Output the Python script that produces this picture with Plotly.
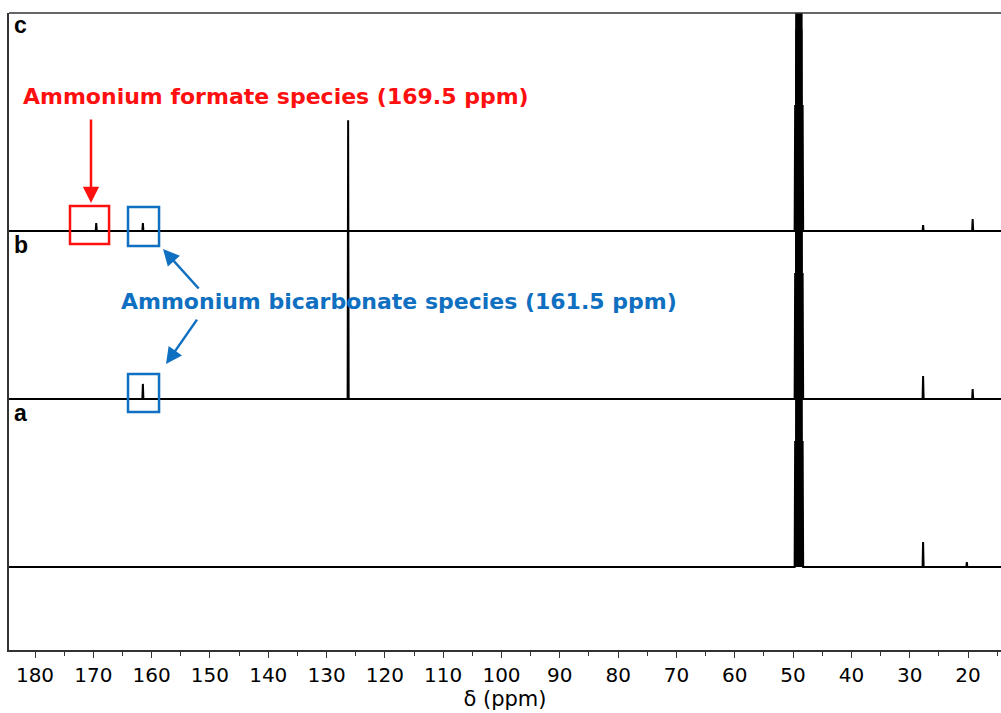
import plotly.graph_objects as go

# 13C NMR stick spectra, stacked a (bottom) -> c (top)
spectrum_names = ["a", "b", "c"]
spectrum_offsets = [0.0, 1.0, 2.0]

# Solvent multiplet (CD3OD septet around 49 ppm), shared by all spectra
solvent_ppm = [49.64, 49.43, 49.21, 49.00, 48.79, 48.57, 48.36]
solvent_int = [0.75, 2.2, 4.4, 5.2, 4.4, 2.2, 0.75]

a_ppm = [27.7, 20.2]
a_int = [0.149, 0.03]

b_ppm = [161.5, 126.3, 27.7, 19.2]
b_int = [0.09, 1.66, 0.137, 0.06]

c_ppm = [169.5, 161.5, 27.7, 19.2]
c_int = [0.048, 0.048, 0.036, 0.071]

x_ticks = [180, 170, 160, 150, 140, 130, 120, 110, 100, 90, 80, 70, 60, 50, 40, 30, 20]

X_LEFT, X_RIGHT = 184.46, 14.34
Y_BOTTOM, Y_TOP = -0.494, 3.298
HALF_WIDTH = 0.09  # half width of each stick, ppm


def stick_trace(ppm, inten, offset):
    peaks = sorted(zip(ppm, inten), key=lambda p: -p[0])
    xs, ys = [X_LEFT + 1], [offset]
    for p, h in peaks:
        xs += [p + HALF_WIDTH, p, p - HALF_WIDTH]
        ys += [offset, offset + h, offset]
    xs.append(X_RIGHT - 1)
    ys.append(offset)
    return go.Scatter(x=xs, y=ys, mode="lines",
                      line=dict(color="black", width=2),
                      hoverinfo="skip", showlegend=False)


fig = go.Figure()
for name, off, pp, ii in zip(spectrum_names, spectrum_offsets,
                              [a_ppm, b_ppm, c_ppm], [a_int, b_int, c_int]):
    fig.add_trace(stick_trace(pp + solvent_ppm, ii + solvent_int, off))

RED = "#ff1010"
BLUE = "#0f6fc0"
BOLD = "DejaVu Sans"

shapes = [
    # top frame line
    dict(type="line", xref="paper", yref="paper", x0=0, x1=1, y0=1, y1=1,
         line=dict(color="#333333", width=1.5)),
    # highlight boxes
    dict(type="rect", xref="x", yref="y", x0=174.0, x1=167.3, y0=1.923, y1=2.149,
         line=dict(color=RED, width=2.5)),
    dict(type="rect", xref="x", yref="y", x0=164.05, x1=158.73, y0=1.911, y1=2.143,
         line=dict(color=BLUE, width=2.5)),
    dict(type="rect", xref="x", yref="y", x0=164.05, x1=158.73, y0=0.923, y1=1.149,
         line=dict(color=BLUE, width=2.5)),
]

panel_font = dict(family="Liberation Sans", size=23, color="black")
annotations = [
    dict(text="<b>c</b>", xref="paper", yref="y", x=0.003, y=3.226,
         xanchor="left", yanchor="middle", showarrow=False, font=panel_font),
    dict(text="<b>b</b>", xref="paper", yref="y", x=0.003, y=1.917,
         xanchor="left", yanchor="middle", showarrow=False, font=panel_font),
    dict(text="<b>a</b>", xref="paper", yref="y", x=0.003, y=0.917,
         xanchor="left", yanchor="middle", showarrow=False, font=panel_font),
    dict(text="<b>Ammonium formate species (169.5 ppm)</b>", xref="x", yref="y",
         x=138.67, y=2.798, xanchor="center", yanchor="middle", showarrow=False,
         font=dict(family=BOLD, size=22, color=RED)),
    dict(text="<b>Ammonium bicarbonate species (161.5 ppm)</b>", xref="x", yref="y",
         x=117.5, y=1.583, xanchor="center", yanchor="middle", showarrow=False,
         font=dict(family=BOLD, size=22, color=BLUE)),
    # arrows
    dict(text="", xref="x", yref="y", x=170.4, y=2.167, ax=0, ay=-85,
         showarrow=True, arrowhead=2, arrowsize=1.3, arrowwidth=2.5, arrowcolor=RED),
    dict(text="", xref="x", yref="y", x=158.05, y=1.893, ax=37, ay=41,
         showarrow=True, arrowhead=2, arrowsize=1.3, arrowwidth=2.5, arrowcolor=BLUE),
    dict(text="", xref="x", yref="y", x=157.53, y=1.208, ax=32, ay=-46,
         showarrow=True, arrowhead=2, arrowsize=1.3, arrowwidth=2.5, arrowcolor=BLUE),
]

fig.update_layout(
    width=1001, height=713,
    margin=dict(l=9, r=0, t=13, b=63),
    paper_bgcolor="white", plot_bgcolor="white",
    shapes=shapes, annotations=annotations,
    showlegend=False,
)

fig.update_xaxes(
    range=[X_LEFT, X_RIGHT],
    tickvals=x_ticks, ticktext=[str(t) for t in x_ticks],
    ticks="outside", ticklen=6, tickwidth=1, tickcolor="#333333",
    minor=dict(ticks="outside", ticklen=4, tickwidth=1, tickcolor="#333333", dtick=5, tick0=0),
    showline=True, linecolor="#333333", linewidth=1.5,
    showgrid=False, zeroline=False,
    tickfont=dict(family="DejaVu Sans", size=20, color="black"),
    title=dict(text="δ (ppm)", font=dict(family="DejaVu Sans", size=21, color="black"), standoff=2),
)
fig.update_yaxes(
    range=[Y_BOTTOM, Y_TOP],
    showticklabels=False, ticks="", showgrid=False, zeroline=False,
    showline=True, linecolor="#333333", linewidth=1.5,
)

fig.write_html("out.html")
